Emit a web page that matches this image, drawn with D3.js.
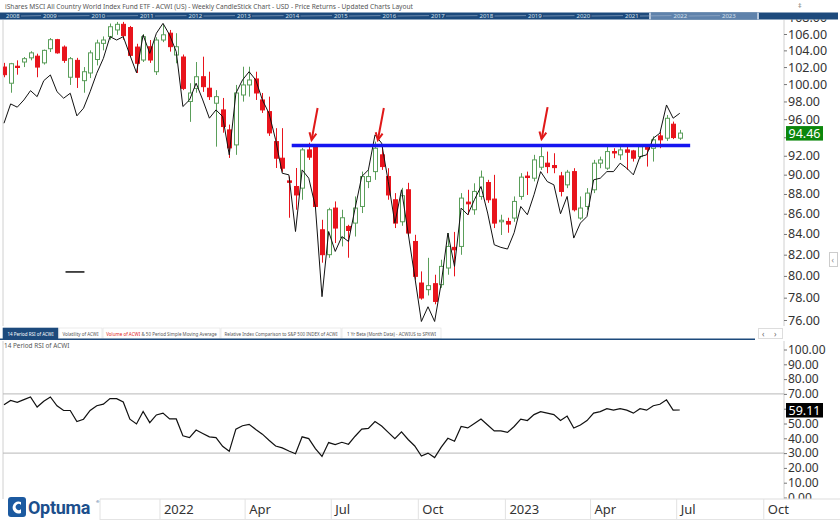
<!DOCTYPE html>
<html><head><meta charset="utf-8">
<script src="https://cdn.jsdelivr.net/npm/d3@7"></script>
<style>body{margin:0;background:#fff}svg{display:block;font-family:"Noto Sans",sans-serif}</style>
</head><body><svg id="c" width="840" height="522"></svg>
<script>
// ---------- DATA ----------
const chartTitle = "iShares MSCI All Country World Index Fund ETF - ACWI (US) - Weekly CandleStick Chart - USD - Price Returns - Updated Charts Layout";
const dates = ["2021-07-16","2021-07-23","2021-07-30","2021-08-06","2021-08-13","2021-08-20","2021-08-27","2021-09-03","2021-09-10","2021-09-17","2021-09-24","2021-10-01","2021-10-08","2021-10-15","2021-10-22","2021-10-29","2021-11-05","2021-11-12","2021-11-19","2021-11-26","2021-12-03","2021-12-10","2021-12-17","2021-12-24","2021-12-31",
"2022-01-07","2022-01-14","2022-01-21","2022-01-28","2022-02-04","2022-02-11","2022-02-18","2022-02-25","2022-03-04","2022-03-11","2022-03-18","2022-03-25","2022-04-01","2022-04-08","2022-04-15","2022-04-22","2022-04-29","2022-05-06","2022-05-13","2022-05-20","2022-05-27","2022-06-03","2022-06-10","2022-06-17","2022-06-24","2022-07-01","2022-07-08","2022-07-15","2022-07-22","2022-07-29","2022-08-05","2022-08-12","2022-08-19","2022-08-26","2022-09-02","2022-09-09","2022-09-16","2022-09-23","2022-09-30","2022-10-07","2022-10-14","2022-10-21","2022-10-28","2022-11-04","2022-11-11","2022-11-18","2022-11-25","2022-12-02","2022-12-09","2022-12-16","2022-12-23","2022-12-30",
"2023-01-06","2023-01-13","2023-01-20","2023-01-27","2023-02-03","2023-02-10","2023-02-17","2023-02-24","2023-03-03","2023-03-10","2023-03-17","2023-03-24","2023-03-31","2023-04-07","2023-04-14","2023-04-21","2023-04-28","2023-05-05","2023-05-12","2023-05-19","2023-05-26","2023-06-02","2023-06-09","2023-06-16","2023-06-23","2023-06-30"];
const opens  = [102.0,100.1,102.1,102.6,103.1,103.3,102.5,104.2,105.3,104.4,100.8,102.8,100.4,101.3,102.9,104.85,105.7,106.5,107.2,106.8,104.4,102.84,104.44,101.45,105.26,106.1,103.44,103.2,98.0,99.5,100.86,99.52,97.8,97.04,94.81,93.17,98.74,99.9,100.6,98.17,96.85,93.53,91.74,89.35,88.77,88.6,92.63,92.98,84.41,82.0,86.57,83.63,84.74,85.07,86.73,89.28,90.32,92.1,89.8,87.41,85.2,88.43,83.27,79.34,78.73,79.28,79.19,80.74,82.7,82.79,87.17,86.4,87.75,89.18,87.48,85.2,85.23,85.57,87.75,89.85,89.63,90.78,91.21,90.96,89.87,88.94,90.32,85.57,86.73,88.43,91.21,90.68,92.45,92.1,92.63,92.52,91.91,92.98,92.8,94.15,93.9,95.44,93.9];
const highs  = [102.5,102.5,102.8,103.2,103.9,103.6,104.1,105.5,105.4,104.6,103.2,103.1,102.0,104.0,105.3,105.7,107.3,107.5,107.5,107.0,104.8,106.0,105.26,105.6,107.2,106.5,106.1,103.5,100.1,102.6,103.24,101.45,99.3,98.4,95.4,99.9,102.04,102.04,101.45,98.97,98.55,95.0,95.0,89.8,90.7,92.85,93.4,93.1,85.4,86.6,87.24,86.4,84.9,87.75,90.32,90.5,93.53,92.98,90.68,88.09,88.63,89.15,83.92,80.42,81.7,80.11,81.52,84.09,84.2,88.09,88.43,89.1,90.43,89.46,89.98,85.9,85.6,87.75,90.16,90.32,92.1,93.17,92.45,92.27,90.29,90.5,90.68,87.75,88.6,91.56,91.91,92.98,92.81,92.98,92.98,92.63,93.17,93.17,94.1,94.62,96.47,95.73,94.81];
const lows   = [100.8,99.0,101.1,102.0,102.8,100.8,102.3,103.8,103.6,102.5,99.9,99.55,99.0,100.7,102.2,104.0,105.3,105.9,105.3,103.2,101.3,102.6,102.5,101.07,105.0,103.85,102.45,99.3,95.7,99.0,99.1,98.17,92.98,94.5,91.77,92.1,97.98,98.55,98.17,96.7,94.15,90.7,90.3,85.6,86.4,87.41,91.56,86.5,81.24,81.7,83.12,82.79,81.71,83.75,86.07,88.6,89.46,90.5,87.41,84.58,84.8,83.9,79.65,77.82,78.2,77.4,78.9,80.11,79.96,81.99,85.9,85.9,87.41,87.1,84.58,83.9,84.12,85.2,87.41,87.9,89.3,90.5,90.15,90.15,87.75,88.6,86.23,85.4,86.4,88.09,90.68,90.5,91.74,91.56,90.5,91.38,91.7,90.85,91.38,92.81,93.6,93.8,93.72];
const closes = [101.1,102.4,101.95,103.0,103.7,102.0,104.0,105.3,103.7,102.8,103.0,100.8,101.45,103.7,104.9,105.26,106.9,107.2,105.8,103.4,102.45,105.67,102.84,105.26,105.9,104.45,104.44,99.5,98.97,100.86,99.7,98.55,98.55,95.18,92.85,98.97,99.9,100.48,98.97,97.04,94.48,91.74,90.68,89.2,87.9,92.63,91.85,86.73,82.0,86.4,84.58,85.6,84.34,86.57,89.8,89.8,92.81,90.85,87.9,85.07,87.82,84.09,79.96,77.97,79.1,77.66,80.89,82.79,82.47,87.58,87.0,88.26,89.74,87.41,85.07,85.35,84.97,87.24,89.74,89.7,91.56,91.91,90.85,90.74,88.26,90.26,86.4,86.57,88.09,91.21,91.56,92.45,92.3,92.63,92.38,91.74,92.98,92.7,93.72,93.72,96.1,93.97,94.46];
// black overlay line (same price scale)
const lineVals = [95.55,97.72,97.35,98.17,99.24,98.55,100.4,101.07,99.12,98.37,98.94,96.37,97.23,99.12,101.27,103.04,105.67,105.26,105.67,103.44,101.33,105.88,103.64,106.09,107.32,105.88,103.84,97.42,98.17,100.1,98.17,96.11,97.04,96.29,92.1,98.94,100.48,101.45,100.48,98.17,96.66,93.72,90.15,89.98,84.24,90.5,89.63,86.73,78.09,84.24,82.31,83.75,83.27,86.57,89.8,90.5,94.26,93.36,89.28,85.07,88.43,84.09,79.93,75.87,77.18,75.87,79.34,84.09,80.89,86.57,85.9,87.41,88.77,86.07,82.95,82.7,82.54,84.12,86.73,85.9,87.92,90.32,89.28,88.94,86.0,87.75,83.6,85.07,85.73,89.46,89.63,90.32,90.32,91.21,90.68,89.98,91.91,92.1,93.9,94.45,97.6,96.11,96.66];
const rsiVals = [62.7,65.6,64.3,66.1,67.9,61.1,65.0,67.9,62.0,58.8,58.8,51.3,52.9,58.8,62.0,63.1,66.8,66.8,64.5,52.9,49.7,58.1,50.6,55.8,57.0,53.1,53.1,41.7,40.5,45.6,43.3,41.0,40.5,34.6,31.2,46.2,48.5,49.4,46.0,42.8,38.7,34.8,33.5,31.4,29.6,41.0,39.8,33.0,27.7,37.1,35.7,37.3,36.0,41.4,46.2,46.7,51.3,48.3,44.0,39.8,44.4,39.2,34.8,28.0,30.0,27.0,34.0,40.0,38.0,48.0,47.0,50.0,53.0,49.0,45.0,45.0,44.0,48.0,53.0,52.0,56.0,58.0,57.0,56.0,52.0,55.0,47.0,49.0,52.0,57.0,58.0,60.0,59.0,60.0,59.0,57.0,60.0,59.0,62.0,63.0,66.0,59.0,59.11];
const priceTicks = [76,78,80,82,84,86,88,90,92,94,96,98,100,102,104,106,108];
const rsiTicks = [0,10,20,30,40,50,60,70,80,90,100];
const rsiBands = [70,30];
const timeTickDates = ["2022-01-01","2022-04-01","2022-07-01","2022-10-01","2023-01-01","2023-04-01","2023-07-01","2023-10-01"];
const timeTickLabels = ["2022","Apr","Jul","Oct","2023","Apr","Jul","Oct"];
const navYears = [2008,2009,2010,2011,2012,2013,2014,2015,2016,2017,2018,2019,2020,2021,2022,2023];
const resistance = {price:93.1, from:"2022-05-16", to:"2023-07-11"};
const arrows = [{date:"2022-06-06",price:93.7},{date:"2022-08-15",price:93.7},{date:"2023-02-04",price:93.8}];
const marker = {price:80.37, from:"2021-09-19", to:"2021-10-09"};
const tabs = [
  {parts:[["14 Period RSI of ACWI","#fff"]], active:true, w:55},
  {parts:[["Volatility of ACWI","#555"]], w:43},
  {parts:[["Volume of ACWI","#e02020"],[" & 50 Period Simple Moving Average","#555"]], w:117},
  {parts:[["Relative Index Comparison to S&P 500 INDEX of ACWI","#555"]], w:120},
  {parts:[["1 Yr Beta (Month Data) - ACWIUS to SPXWI","#555"]], w:99}
];
const lastPrice = closes[closes.length-1];
const lastRsi = rsiVals[rsiVals.length-1];

// ---------- LAYOUT ----------
const svg = d3.select("#c");
const parse = d3.utcParse("%Y-%m-%d");
const mainTop = 20, mainBottom = 326, axisX = 784, leftX = 3;
const x = d3.scaleUtc().domain([parse(dates[0]), parse(dates[dates.length-1])]).range([4, 679.75]);
const yP = d3.scaleLog().domain([106,76]).range([34,320]);
const yR = d3.scaleLinear().domain([100,0]).range([349.5,497.5]);

const defs = svg.append("defs");
defs.append("clipPath").attr("id","clipMain").append("rect").attr("x",leftX).attr("y",mainTop).attr("width",axisX-leftX).attr("height",mainBottom-mainTop);
defs.append("clipPath").attr("id","clipAxis").append("rect").attr("x",axisX).attr("y",19.6).attr("width",60).attr("height",mainBottom-19.6);

// title
svg.append("text").attr("x",5).attr("y",8.5).attr("font-size",6.6).attr("fill","#555").text(chartTitle);
// top-right icon
svg.append("text").attr("x",798).attr("y",8).attr("font-size",7).attr("fill","#777").text("‡");

// navigator bar
const nav = svg.append("g");
nav.append("rect").attr("x",0).attr("y",12.5).attr("width",838).attr("height",7).attr("fill","#1d4a7c");
nav.append("rect").attr("x",649).attr("y",12.5).attr("width",110).attr("height",7).attr("fill","#5f82ab");
nav.append("rect").attr("x",649).attr("y",12.5).attr("width",2).attr("height",7).attr("fill","#b8c8dc");
nav.append("rect").attr("x",757).attr("y",12.5).attr("width",2).attr("height",7).attr("fill","#b8c8dc");
const navX = d3.scaleLinear().domain([2009,2023]).range([43,722]);
navYears.forEach((yr,i)=>{
  const px = Math.max(6, navX(yr));
  nav.append("text").attr("x",px).attr("y",18.3).attr("font-size",6).attr("fill","#d6e0ec").text(yr);
  if(i<navYears.length-1){
    const nx = navX(navYears[i+1]);
    nav.append("line").attr("x1",px+15).attr("x2",nx-2).attr("y1",16).attr("y2",15.6).attr("stroke","#9fb3cc").attr("stroke-width",0.6);
  }
});

// main panel borders
svg.append("line").attr("x1",leftX).attr("x2",leftX).attr("y1",mainTop).attr("y2",mainBottom).attr("stroke","#d0d0d0");
svg.append("line").attr("x1",axisX).attr("x2",axisX).attr("y1",mainTop).attr("y2",mainBottom).attr("stroke","#d0d0d0");

// candles
const data = dates.map((d,i)=>({d:parse(d),o:opens[i],h:highs[i],l:lows[i],c:closes[i]}));
const up = "#5a9e5a", dn = "#e8141c";
const cg = svg.append("g").attr("clip-path","url(#clipMain)");
cg.selectAll("line.w").data(data).join("line").attr("class","w")
  .attr("x1",d=>Math.round(x(d.d))+0.5).attr("x2",d=>Math.round(x(d.d))+0.5)
  .attr("y1",d=>yP(d.h)).attr("y2",d=>yP(d.l))
  .attr("stroke",d=>d.c>=d.o?up:dn).attr("stroke-width",1);
cg.selectAll("rect.b").data(data).join("rect").attr("class","b")
  .attr("x",d=>Math.round(x(d.d))-1.5).attr("width",4)
  .attr("y",d=>yP(Math.max(d.o,d.c)))
  .attr("height",d=>Math.max(1.2,Math.abs(yP(d.o)-yP(d.c))))
  .attr("fill",d=>d.c>=d.o?"#fff":dn)
  .attr("stroke",d=>d.c>=d.o?up:dn).attr("stroke-width",1);

// black line
cg.append("path").datum(lineVals)
  .attr("d",d3.line().x((v,i)=>x(data[i].d)).y(v=>yP(v)))
  .attr("fill","none").attr("stroke","#111").attr("stroke-width",1);

// small marker
cg.append("line").attr("x1",x(parse(marker.from))).attr("x2",x(parse(marker.to)))
  .attr("y1",yP(marker.price)).attr("y2",yP(marker.price)).attr("stroke","#111").attr("stroke-width",1.5);

// resistance
cg.append("line").attr("x1",x(parse(resistance.from))).attr("x2",x(parse(resistance.to)))
  .attr("y1",yP(resistance.price)).attr("y2",yP(resistance.price))
  .attr("stroke","#1616f0").attr("stroke-width",3.5);

// arrows
arrows.forEach(a=>{
  const tx = x(parse(a.date)), ty = yP(a.price);
  const sx = tx+6, sy = ty-32;
  const ang = Math.atan2(ty-sy, tx-sx);
  const hl = 8, spread = 0.45;
  cg.append("line").attr("x1",sx).attr("y1",sy).attr("x2",tx).attr("y2",ty).attr("stroke","#e01818").attr("stroke-width",2);
  cg.append("path").attr("d",`M${tx-hl*Math.cos(ang-spread)},${ty-hl*Math.sin(ang-spread)}L${tx},${ty}L${tx-hl*Math.cos(ang+spread)},${ty-hl*Math.sin(ang+spread)}`)
    .attr("fill","none").attr("stroke","#e01818").attr("stroke-width",2).attr("stroke-linejoin","miter");
});

// price axis (labels hidden under the last-price box are skipped)
const paOuter = svg.append("g").attr("clip-path","url(#clipAxis)");
const pa = paOuter.append("g").attr("transform",`translate(${axisX},0)`)
  .call(d3.axisRight(yP).tickValues(priceTicks).tickSize(3).tickPadding(1)
    .tickFormat(v=>Math.abs(yP(v)-yP(lastPrice))<9?"":d3.format(".2f")(v)));
pa.select(".domain").remove();
pa.selectAll("line").attr("stroke","#777");
pa.selectAll("text").attr("font-size",12.5).attr("fill","#333").attr("font-family","Noto Sans");
// last price label
svg.append("rect").attr("x",786).attr("y",yP(lastPrice)-7).attr("width",37).attr("height",14.5).attr("fill","#0c870c");
svg.append("text").attr("x",788.5).attr("y",yP(lastPrice)+4.6).attr("font-size",12.5).attr("fill","#fff").text(lastPrice.toFixed(2));

// collapse button
svg.append("rect").attr("x",829.5).attr("y",252.5).attr("width",8).attr("height",14).attr("fill","#fff").attr("stroke","#ccc");
svg.append("text").attr("x",831.5).attr("y",263).attr("font-size",8).attr("fill","#888").text("‹");

// tabs
const tg = svg.append("g");
let tx0 = 3;
tabs.forEach(t=>{
  const grp = tg.append("g");
  grp.append("rect").attr("x",tx0).attr("y",328).attr("width",t.w).attr("height",11)
    .attr("fill",t.active?"#1d4a7c":"#fff").attr("stroke",t.active?"#1d4a7c":"#ddd").attr("stroke-width",0.6);
  const txt = grp.append("text").attr("x",tx0+t.w/2).attr("y",335.6).attr("font-size",4.5).attr("text-anchor","middle");
  t.parts.forEach(p=>txt.append("tspan").attr("fill",p[1]).text(p[0]));
  tx0 += t.w + 1;
});
svg.append("line").attr("x1",0).attr("x2",755).attr("y1",339.3).attr("y2",339.3).attr("stroke","#1d4a7c").attr("stroke-width",1.5);
svg.append("rect").attr("x",758.5).attr("y",328.5).attr("width",24).attr("height",10).attr("fill","#fff").attr("stroke","#ddd");
svg.append("text").attr("x",762).attr("y",336.5).attr("font-size",8).attr("fill","#666").text("‹");
svg.append("text").attr("x",774).attr("y",336.5).attr("font-size",8).attr("fill","#666").text("›");

// RSI panel
svg.append("text").attr("x",4).attr("y",347.5).attr("font-size",6.4).attr("fill","#555").text("14 Period RSI of ACWI");
svg.append("line").attr("x1",leftX).attr("x2",leftX).attr("y1",341).attr("y2",499).attr("stroke","#d0d0d0");
svg.append("line").attr("x1",axisX).attr("x2",axisX).attr("y1",341).attr("y2",499).attr("stroke","#d0d0d0");
rsiBands.forEach(b=>{
  svg.append("line").attr("x1",leftX).attr("x2",axisX).attr("y1",yR(b)).attr("y2",yR(b)).attr("stroke","#b8b8b8").attr("stroke-width",1);
});
svg.append("path").datum(rsiVals)
  .attr("d",d3.line().x((v,i)=>x(data[i].d)).y(v=>yR(v)))
  .attr("fill","none").attr("stroke","#111").attr("stroke-width",1.2);
const ra = svg.append("g").attr("transform",`translate(${axisX},0)`)
  .call(d3.axisRight(yR).tickValues(rsiTicks).tickSize(3).tickPadding(1)
    .tickFormat(v=>Math.abs(yR(v)-yR(lastRsi))<9?"":d3.format(".2f")(v)));
ra.select(".domain").remove();
ra.selectAll("line").attr("stroke","#777");
ra.selectAll("text").attr("font-size",12).attr("fill","#333").attr("font-family","Noto Sans");
svg.append("rect").attr("x",786).attr("y",yR(lastRsi)-7).attr("width",37).attr("height",14.5).attr("fill","#000");
svg.append("text").attr("x",788.5).attr("y",yR(lastRsi)+4.6).attr("font-size",12.5).attr("fill","#fff").text(lastRsi.toFixed(2));

// bottom axis area
svg.append("rect").attr("x",0).attr("y",499).attr("width",840).attr("height",23).attr("fill","#fff");
svg.append("line").attr("x1",100).attr("x2",840).attr("y1",499).attr("y2",499).attr("stroke","#ddd");
svg.append("line").attr("x1",100).attr("x2",840).attr("y1",519.5).attr("y2",519.5).attr("stroke","#e4e4e4");
const xa = svg.append("g");
timeTickDates.forEach((d,i)=>{
  const px = x(parse(d));
  xa.append("line").attr("x1",px-4).attr("x2",px-4).attr("y1",499).attr("y2",519).attr("stroke","#e2e2e2");
  xa.append("text").attr("x",px).attr("y",513.5).attr("font-size",13).attr("fill","#333").text(timeTickLabels[i]);
});
svg.append("line").attr("x1",100).attr("x2",100).attr("y1",499).attr("y2",520).attr("stroke","#e2e2e2");

// Optuma logo
const lg = svg.append("g").attr("transform","translate(8,496)");
lg.append("rect").attr("x",0).attr("y",1).attr("width",18).attr("height",20).attr("rx",3).attr("fill","#1c5aa0");
lg.append("path").attr("d","M13,6 A6,6 0 1 0 13,17 L13,13 A3,3 0 1 1 13,9 Z").attr("fill","#fff");
lg.append("text").attr("x",20).attr("y",18).attr("font-size",18).attr("font-weight",700).attr("fill","#1c4f8c").attr("font-family","Roboto, Noto Sans").attr("letter-spacing",-0.3).text("Optuma");
lg.append("text").attr("x",88).attr("y",7).attr("font-size",4).attr("fill","#1c4f8c").text("®");
</script></body></html>
